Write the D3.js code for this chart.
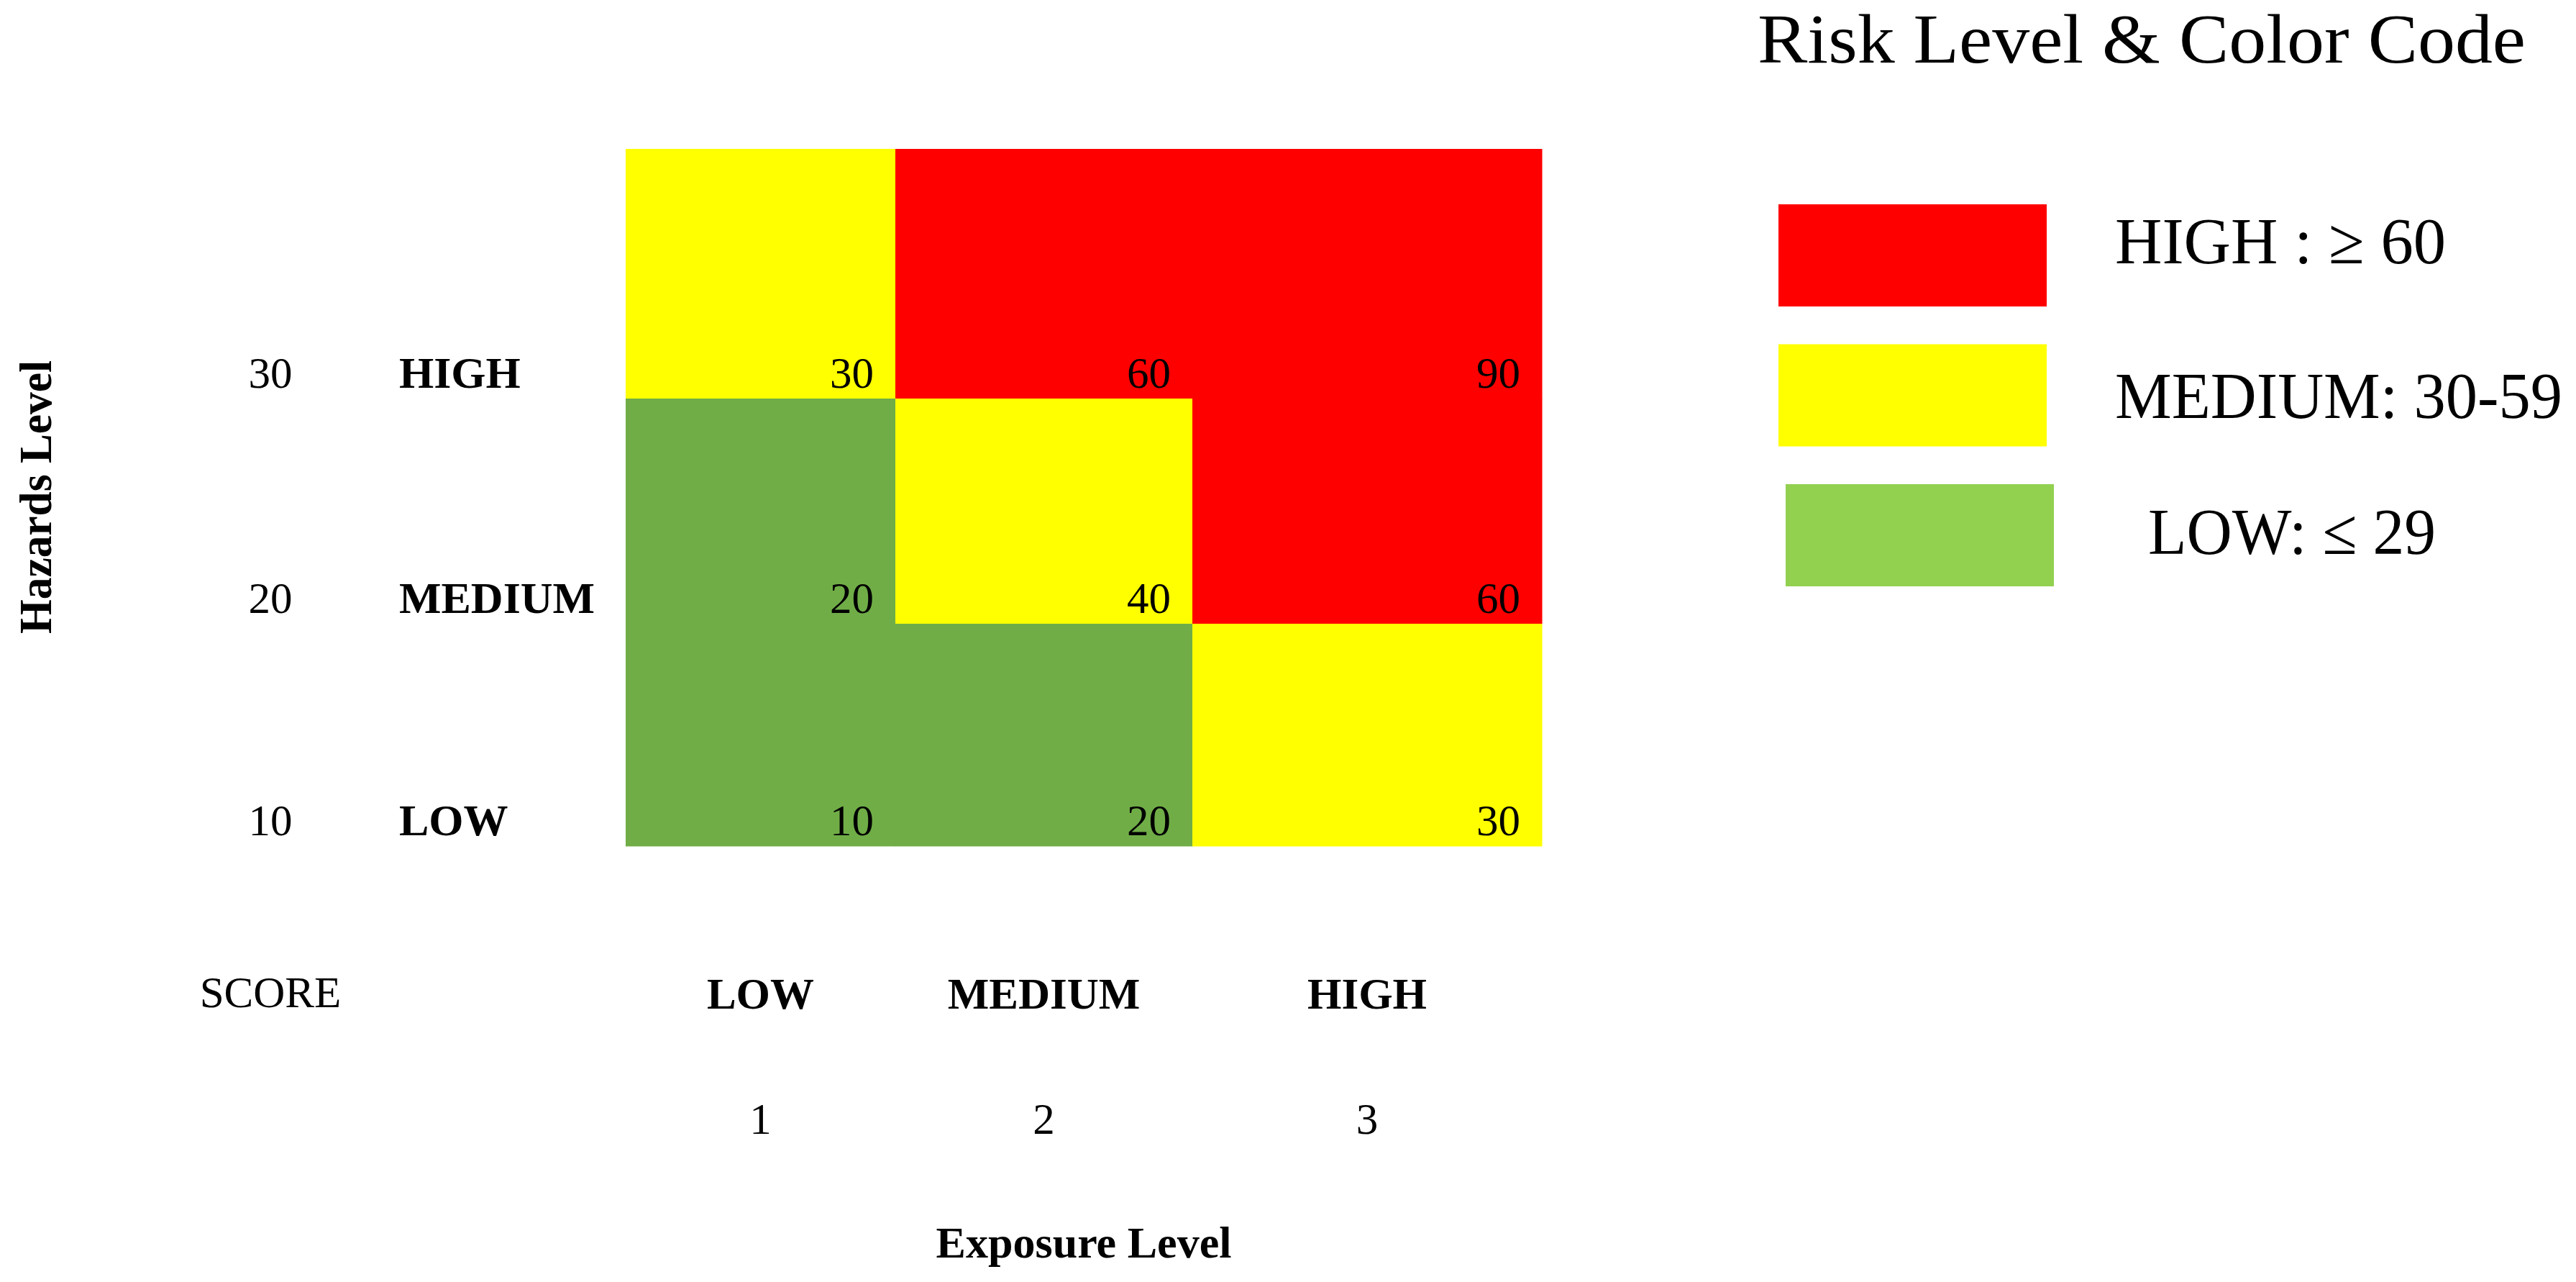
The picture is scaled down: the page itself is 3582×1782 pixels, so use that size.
<!DOCTYPE html>
<html>
<head>
<meta charset="utf-8">
<script src="https://cdn.jsdelivr.net/npm/d3@7"></script>
<style>
  body { margin: 0; background: #fff; }
</style>
</head>
<body>
<div id="chart"></div>
<script>
// Risk matrix - hazards level x exposure level

// Data
const exposureLevels = ['LOW', 'MEDIUM', 'HIGH'];
const exposureScores = [1, 2, 3];
const hazardLevels = ['HIGH', 'MEDIUM', 'LOW'];   // top to bottom
const hazardScores = [30, 20, 10];
const riskValues = [
  [30, 60, 90],
  [20, 40, 60],
  [10, 20, 30]
];
const legendLabels = ['HIGH : \u2265 60', 'MEDIUM: 30-59', 'LOW: \u2264 29'];
const legendColors = ['#ff0000', '#ffff00', '#92d050'];

// Layout
const width = 3582;
const height = 1782;
const serif = '"Palatino Linotype", "Book Antiqua", Palatino, P052, "URW Palladio L", "Liberation Serif", serif';
const colEdges = [870, 1245, 1658, 2144];
const rowEdges = [207, 554, 867, 1176];

const svg = d3.select('#chart')
  .append('svg')
  .attr('width', width)
  .attr('height', height)
  .style('display', 'block')
  .style('font-family', serif);

// piecewise scales: columns / rows are not equally wide
const x = d3.scaleLinear().domain([0, 1, 2, 3]).range(colEdges);
const y = d3.scaleLinear().domain([0, 1, 2, 3]).range(rowEdges);
const color = d3.scaleThreshold()
  .domain([30, 60])
  .range(['#70ad47', '#ffff00', '#ff0000']);

function fit(sel, w) {
  sel.attr('textLength', w).attr('lengthAdjust', 'spacingAndGlyphs');
}

// Cells
const cells = [];
riskValues.forEach((row, r) => row.forEach((v, c) => cells.push({ r, c, v })));

svg.append('g')
  .selectAll('rect')
  .data(cells)
  .join('rect')
  .attr('x', d => x(d.c))
  .attr('y', d => y(d.r))
  .attr('width', d => x(d.c + 1) - x(d.c) + 0.5)
  .attr('height', d => y(d.r + 1) - y(d.r) + 0.5)
  .attr('fill', d => color(d.v));

svg.append('g')
  .selectAll('text')
  .data(cells)
  .join('text')
  .attr('x', d => x(d.c + 1) - 30)
  .attr('y', d => y(d.r + 1) - 15)
  .attr('text-anchor', 'end')
  .attr('font-size', 61)
  .attr('fill', '#000')
  .text(d => d.v);

// Row labels (score + level)
svg.append('g')
  .selectAll('text')
  .data(hazardScores)
  .join('text')
  .attr('x', 376)
  .attr('y', (d, i) => y(i + 1) - 15)
  .attr('text-anchor', 'middle')
  .attr('font-size', 61)
  .text(d => d);

svg.append('g')
  .selectAll('text')
  .data(hazardLevels)
  .join('text')
  .attr('x', 555)
  .attr('y', (d, i) => y(i + 1) - 15)
  .attr('font-size', 62)
  .attr('font-weight', 'bold')
  .text(d => d);

// Column labels
svg.append('text')
  .attr('x', 376)
  .attr('y', 1400)
  .attr('text-anchor', 'middle')
  .attr('font-size', 61)
  .text('SCORE');

svg.append('g')
  .selectAll('text')
  .data(exposureLevels)
  .join('text')
  .attr('x', (d, i) => (x(i) + x(i + 1)) / 2)
  .attr('y', 1402)
  .attr('text-anchor', 'middle')
  .attr('font-size', 61)
  .attr('font-weight', 'bold')
  .text(d => d);

svg.append('g')
  .selectAll('text')
  .data(exposureScores)
  .join('text')
  .attr('x', (d, i) => (x(i) + x(i + 1)) / 2)
  .attr('y', 1576)
  .attr('text-anchor', 'middle')
  .attr('font-size', 61)
  .text(d => d);

// Axis titles
svg.append('text')
  .attr('x', 1507)
  .attr('y', 1748)
  .attr('text-anchor', 'middle')
  .attr('font-size', 62)
  .attr('font-weight', 'bold')
  .text('Exposure Level')
  .call(fit, 411);

svg.append('text')
  .attr('transform', 'translate(71,691) rotate(-90)')
  .attr('text-anchor', 'middle')
  .attr('font-size', 64)
  .attr('font-weight', 'bold')
  .text('Hazards Level')
  .call(fit, 380);

// Legend
svg.append('text')
  .attr('x', 2444)
  .attr('y', 87)
  .attr('font-size', 97)
  .text('Risk Level & Color Code')
  .call(fit, 1068);

const legendY = d3.scaleLinear().domain([0, 1]).range([284, 478.5]);
const legendRectDx = [0, 0, 10];
const legendTextDx = [0, 0, 46];
const legendTextDy = [82, 102, 97];
const legendTextW = [460, 622, 400];

const lg = svg.append('g')
  .selectAll('g')
  .data(legendLabels)
  .join('g');

lg.append('rect')
  .attr('x', (d, i) => 2473 + legendRectDx[i])
  .attr('y', (d, i) => legendY(i))
  .attr('width', 373)
  .attr('height', 142)
  .attr('fill', (d, i) => legendColors[i]);

lg.append('text')
  .attr('x', (d, i) => 2941 + legendTextDx[i])
  .attr('y', (d, i) => legendY(i) + legendTextDy[i])
  .attr('font-size', 91)
  .text(d => d)
  .each(function(d, i) { d3.select(this).call(fit, legendTextW[i]); });
</script>
</body>
</html>
